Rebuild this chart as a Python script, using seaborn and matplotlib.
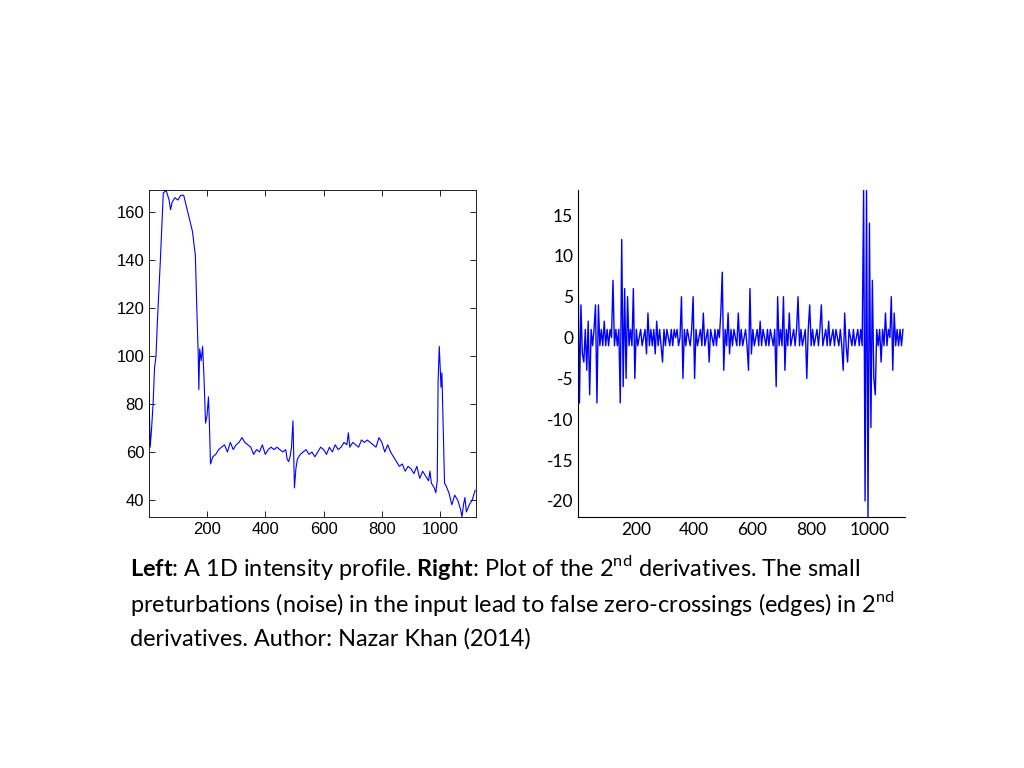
import numpy as np
import pandas as pd
import seaborn as sns
import matplotlib
matplotlib.use("Agg")
import matplotlib.pyplot as plt

plt.rcParams["mathtext.fontset"] = "custom"
plt.rcParams["mathtext.rm"] = "Lato"
plt.rcParams["mathtext.bf"] = "Lato:bold"
plt.rcParams["axes.unicode_minus"] = False

# Left: intensity profile (position, intensity)
profile_x = [1,5,10,15,20,25,30,40,50,60,70,75,80,90,100,110,120,130,140,150,160,165,170,172,175,180,185,190,195,200,205,208,210,212,
             220,230,240,250,260,270,280,290,300,310,320,330,340,350,360,370,380,390,400,410,420,430,440,450,460,470,475,480,485,490,495,498,
             500,505,510,520,530,540,550,560,570,580,590,600,610,620,630,640,650,660,670,680,685,690,700,710,720,730,740,750,760,770,780,790,
             800,810,820,830,840,850,860,870,880,890,900,910,920,930,940,950,960,965,970,980,985,990,993,997,1000,1003,1006,1010,1015,1020,
             1030,1040,1050,1060,1070,1075,1080,1085,1090,1100,1110,1120]
profile_y = [85,62,70,80,95,100,115,140,168,169,165,161,164,166,165,167,167,162,157,152,142,120,100,86,103,98,104,90,72,75,83,73,64,55,
             58,59,61,62,63,60,64,61,63,64,66,64,63,62,59,61,60,63,59,61,62,61,62,61,60,61,57,56,58,62,73,55,
             45,53,57,59,60,61,59,60,58,60,62,61,59,62,60,63,61,62,64,63,68,62,64,63,62,65,64,65,64,63,62,66,
             64,60,63,60,58,56,54,55,52,54,53,51,54,49,52,50,48,52,47,45,43,48,90,104,95,87,93,72,47,46,
             43,38,42,40,36,33,38,41,35,38,40,44]

# Right: 2nd derivative, sampled every 5 positions starting at 1
deriv_y = [9,-8,4,-2,-3,1,-4,2,-7,1,-1,1,4,-8,4,-1,1,-1,2,-1,
           1,-1,1,0,7,-1,1,-1,1,-8,12,-6,6,-5,5,-1,1,-1,6,-5,
           1,-1,0,1,-1,0,1,-2,3,-1,1,-1,1,-2,2,-1,1,-1,-3,1,
           -1,1,0,-1,1,-1,1,0,1,-1,0,5,-5,1,-1,1,0,-1,1,5,
           -5,1,-1,0,1,-1,3,-1,0,1,-3,1,0,-1,1,-1,1,0,3,8,
           -4,1,-1,3,-2,1,-1,1,0,-1,3,-1,1,-1,0,1,-1,-4,6,-2,
           1,-1,0,1,-1,2,-1,1,0,-1,1,-1,1,0,-1,1,-6,5,-1,1,
           -1,5,-4,1,-1,3,-1,0,1,-1,1,5,-1,1,-1,0,1,-5,1,4,
           -1,1,-1,0,1,-1,1,4,-1,0,1,-1,2,-1,0,1,-1,1,0,-1,
           1,-1,-4,3,-1,-3,1,0,-1,1,-1,0,1,-1,1,-1,18,-20,18,-22,
           14,-11,7,-5,-7,1,-1,1,-3,1,-1,3,-1,1,0,5,-4,3,-1,1,
           -1,1,-1,1]
deriv_x = list(range(1, 1 + 5 * len(deriv_y), 5))

left_ticks = [40, 60, 80, 100, 120, 140, 160]
right_ticks = [-20, -15, -10, -5, 0, 5, 10, 15]
x_ticks = [200, 400, 600, 800, 1000]

fig = plt.figure(figsize=(10.24, 7.68), dpi=100)
W, H = 1024, 768
ax1 = fig.add_axes([149 / W, 1 - 517 / H, 327 / W, 327 / H])
ax2 = fig.add_axes([578 / W, 1 - 517 / H, 327 / W, 327 / H])

df1 = pd.DataFrame({"x": profile_x, "y": profile_y})
df2 = pd.DataFrame({"x": deriv_x, "y": deriv_y})
sns.lineplot(data=df1, x="x", y="y", ax=ax1, color="#0000ff", linewidth=0.8)
sns.lineplot(data=df2, x="x", y="y", ax=ax2, color="#0000ff", linewidth=1.0)

ax1.set_xlim(1, 1123)
ax1.set_ylim(32.9, 169.2)
ax1.set_xticks(x_ticks)
ax1.set_yticks(left_ticks)
ax1.tick_params(direction="in", top=True, right=True, length=4, labelsize=12, width=0.6)
for lab in ax1.get_xticklabels() + ax1.get_yticklabels():
    lab.set_fontfamily("Liberation Sans")
for s in ax1.spines.values():
    s.set_linewidth(0.6)

ax2.set_xlim(1, 1123)
ax2.set_ylim(-21.96, 18.06)
ax2.set_xticks(x_ticks)
ax2.set_yticks(right_ticks)
ax2.tick_params(length=0, labelsize=12.5)
for lab in ax2.get_xticklabels() + ax2.get_yticklabels():
    lab.set_fontfamily("Lato")
ax2.spines["top"].set_visible(False)
ax2.spines["right"].set_visible(False)
for s in ax2.spines.values():
    s.set_linewidth(0.8)

for ax in (ax1, ax2):
    ax.set_xlabel("")
    ax.set_ylabel("")

fs = 16.9
fig.text(130 / W, 1 - 567 / H, r"$\bf{Left}$: A 1D intensity profile. $\bf{Right}$: Plot of the 2$^{\rm nd}$ derivatives. The small",
         fontsize=fs, family="Lato", va="center")
fig.text(130 / W, 1 - 603 / H, r"preturbations (noise) in the input lead to false zero-crossings (edges) in 2$^{\rm nd}$",
         fontsize=fs, family="Lato", va="center")
fig.text(130 / W, 1 - 639 / H, "derivatives. Author: Nazar Khan (2014)",
         fontsize=fs, family="Lato", va="center")

fig.savefig("out.png", dpi=100)
